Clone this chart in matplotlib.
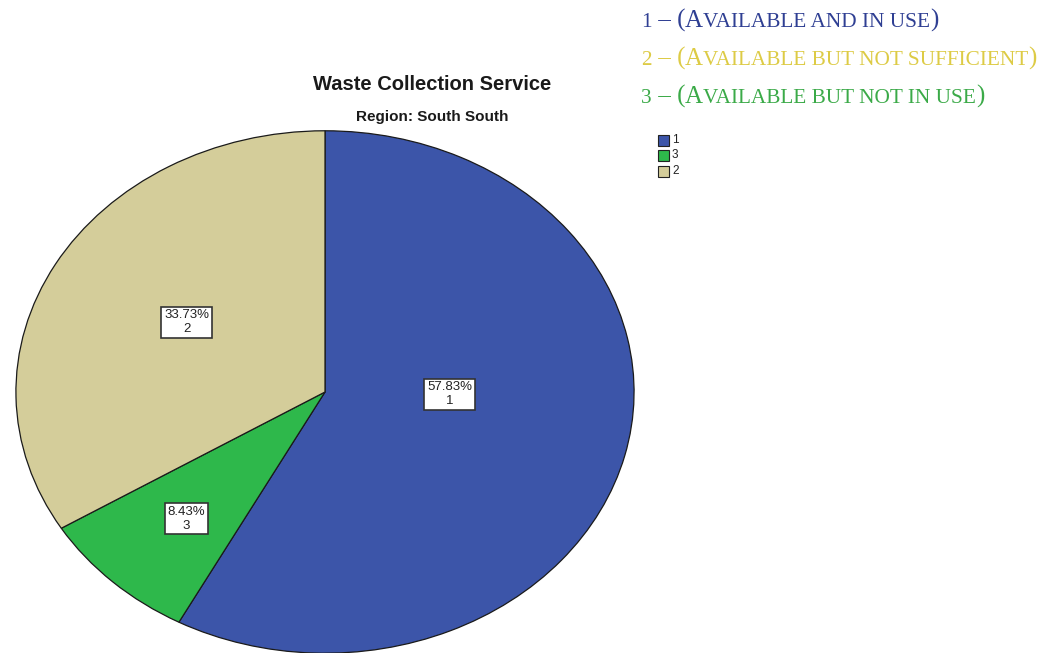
import matplotlib
matplotlib.use("Agg")
import matplotlib.pyplot as plt
from matplotlib.patches import Rectangle

categories = ["1", "3", "2"]
percents = [57.83, 8.43, 33.73]
colors = ["#3C55A9", "#2EB84B", "#D4CD9A"]
title = "Waste Collection Service"
subtitle = "Region: South South"
key_lines = [
    ("1", "Available and in use", "#2F3F93"),
    ("2", "Available but not sufficient", "#DDCB45"),
    ("3", "Available but not in use", "#3BAA48"),
]
# label anchor positions inside the pie (data units of the unit pie)
label_pos = [(0.403, -0.008), (-0.448, -0.485), (-0.448, 0.267)]

W, H = 1063, 653
fig = plt.figure(figsize=(W / 100, H / 100), dpi=100)

# pie axes (elliptical)
cx, cy, rx, ry = 325, 392, 310, 262
ax = fig.add_axes([(cx - rx) / W, (H - cy - ry) / H, 2 * rx / W, 2 * ry / H])
wedges, _ = ax.pie(percents, colors=colors, startangle=90, counterclock=False,
                   wedgeprops=dict(edgecolor="#1a1a1a", linewidth=0.9), radius=1.0)
ax.set_xlim(-1.003, 1.003)
ax.set_ylim(-1.003, 1.003)
ax.set_aspect("auto")
ax.axis("off")

for (x, y), p, c in zip(label_pos, percents, categories):
    ax.text(x, y, f"{p:.2f}%\n{c}", ha="center", va="center", fontsize=9.5,
            color="#222222", linespacing=1.2, family="Liberation Sans",
            bbox=dict(boxstyle="square,pad=0.2", fc="white", ec="#333333", lw=1.2))

fig.text(432 / W, 1 - 85 / H, title, ha="center", va="center", fontsize=14.5,
         fontweight="bold", color="#1a1a1a", family="Liberation Sans")
fig.text(432 / W, 1 - 117 / H, subtitle, ha="center", va="center", fontsize=11,
         fontweight="bold", color="#1a1a1a", family="Liberation Sans")

# small legend
for i, (c, col) in enumerate(zip(categories, colors)):
    yc = 140 + i * 15.5
    fig.patches.append(Rectangle((658 / W, 1 - (yc + 5.5) / H), 11 / W, 11 / H,
                                 transform=fig.transFigure, fc=col, ec="#222222", lw=0.8))
    fig.text(672 / W, 1 - yc / H, c, ha="left", va="center", fontsize=8.5,
             color="#222222", family="Liberation Sans")

# small-caps key lines
renderer = fig.canvas.get_renderer()
big, small = 18, 15.3
for j, (num, desc, col) in enumerate(key_lines):
    base = 27 + j * 38
    x = 641
    pieces = [(num, small), (" – (", big), (desc[0], big), (desc[1:].upper(), small), (")", big)]
    for s, fs in pieces:
        t = fig.text(x / W, 1 - base / H, s, ha="left", va="baseline", fontsize=fs,
                     color=col, family="Liberation Serif")
        bb = t.get_window_extent(renderer)
        x = bb.x1

fig.savefig("out.png", dpi=100)
